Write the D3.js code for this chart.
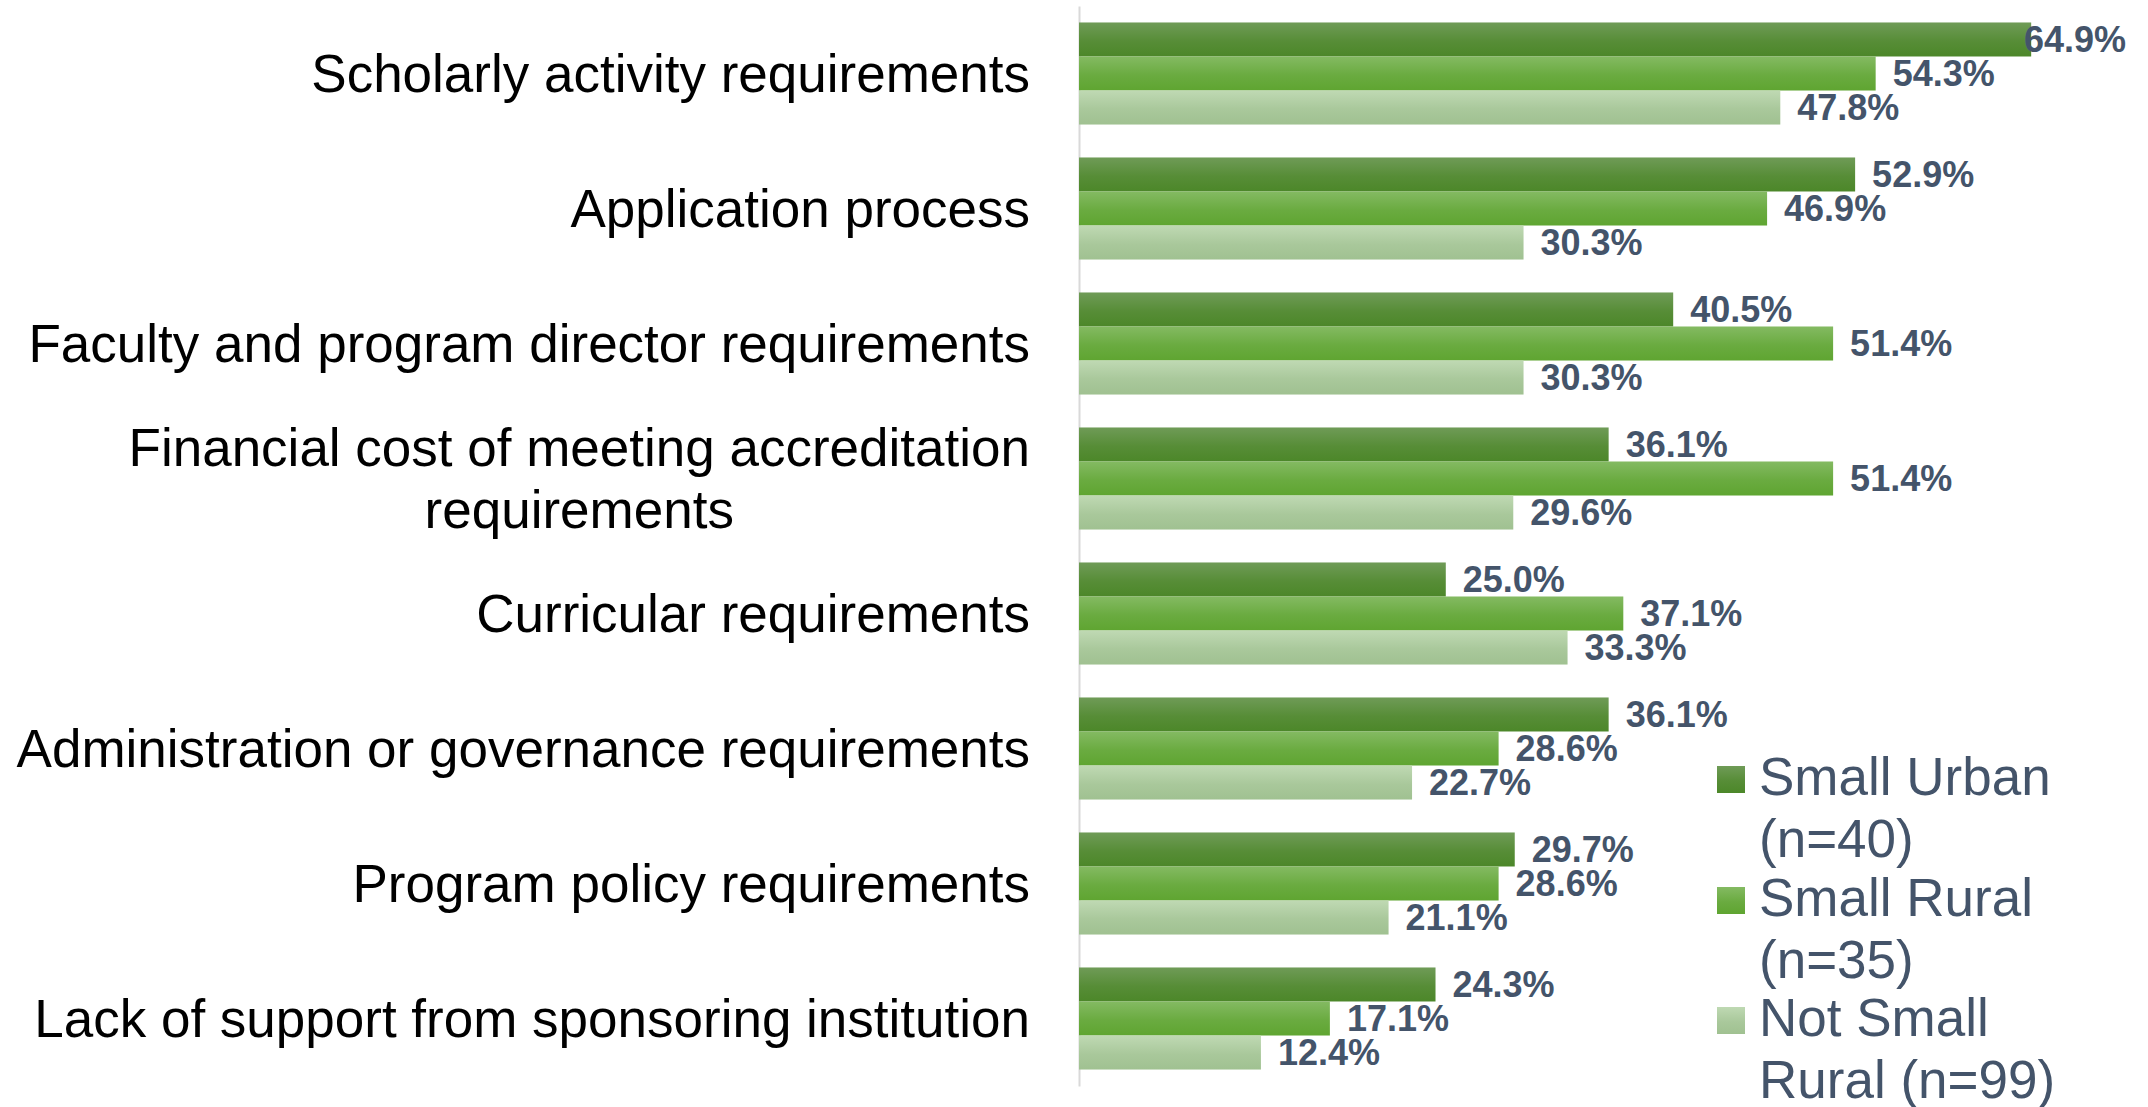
<!DOCTYPE html>
<html>
<head>
<meta charset="utf-8">
<script src="https://cdn.jsdelivr.net/npm/d3@7"></script>
<style>
  body { margin: 0; background: #fff; }
  svg { display: block; font-family: "Liberation Sans", Arial, sans-serif; }
</style>
</head>
<body>
<div id="chart"></div>
<script>
const categories = [
    "Scholarly activity requirements",
    "Application process",
    "Faculty and program director requirements",
    "Financial cost of meeting accreditation requirements",
    "Curricular requirements",
    "Administration or governance requirements",
    "Program policy requirements",
    "Lack of support from sponsoring institution"
]
const seriesNames = ["Small Urban (n=40)", "Small Rural (n=35)", "Not Small Rural (n=99)"]
const smallUrban = [64.9, 52.9, 40.5, 36.1, 25.0, 36.1, 29.7, 24.3]
const smallRural = [54.3, 46.9, 51.4, 51.4, 37.1, 28.6, 28.6, 17.1]
const notSmallRural = [47.8, 30.3, 30.3, 29.6, 33.3, 22.7, 21.1, 12.4]
const xDomainMax = 70

const width = 2148
const height = 1107
const plot = {left: 1079, right: 2106, top: 6, bottom: 1086}
const labelRight = 1030
const textColor = "#44546A"

// gradients: [top, bottom] per series
const gradStops = [
    ["#6f9b57", "#4c8729"],
    ["#84ba62", "#5fa531"],
    ["#bfd9b3", "#a0c191"]
]

const svg = d3.select("#chart")
    .append("svg")
    .attr("width", width)
    .attr("height", height)

const defs = svg.append("defs")
gradStops.forEach((g, i) => {
    const lg = defs.append("linearGradient")
        .attr("id", "grad" + i)
        .attr("x1", 0).attr("y1", 0).attr("x2", 0).attr("y2", 1)
    lg.append("stop").attr("offset", "0%").attr("stop-color", g[0])
    lg.append("stop").attr("offset", "55%").attr("stop-color", d3.interpolateRgb(g[0], g[1])(0.7))
    lg.append("stop").attr("offset", "100%").attr("stop-color", g[1])
})

const seriesValues = [smallUrban, smallRural, notSmallRural]
const rows = categories.map((c, i) => ({
    label: c,
    values: seriesNames.map((s, j) => ({series: s, idx: j, value: seriesValues[j][i]}))
}))

const yScale = d3.scaleBand()
    .domain(categories)
    .range([plot.top, plot.bottom])
    .paddingInner(0.244)
    .paddingOuter(0.122)

const ySub = d3.scaleBand()
    .domain(seriesNames)
    .range([0, yScale.bandwidth()])

const xScale = d3.scaleLinear()
    .domain([0, xDomainMax])
    .range([plot.left, plot.right])

// vertical axis line
const yAxis = d3.axisLeft(yScale).tickSize(0).tickFormat("")
svg.append("g")
    .attr("class", "y-axis")
    .attr("transform", `translate(${plot.left},0)`)
    .call(yAxis)
    .call(g => g.select(".domain").attr("stroke", "#d9d9d9").attr("stroke-width", 2))

const groups = svg.selectAll("g.cat")
    .data(rows)
    .enter()
    .append("g")
    .attr("class", "cat")
    .attr("transform", d => `translate(0,${yScale(d.label)})`)

groups.selectAll("rect")
    .data(d => d.values)
    .enter()
    .append("rect")
    .attr("x", xScale(0))
    .attr("y", d => ySub(d.series))
    .attr("width", d => xScale(d.value) - xScale(0))
    .attr("height", ySub.bandwidth())
    .attr("fill", d => `url(#grad${d.idx})`)

const fmt = d3.format(".1f")
groups.selectAll("text.val")
    .data(d => d.values)
    .enter()
    .append("text")
    .attr("class", "val")
    .attr("y", d => ySub(d.series) + ySub.bandwidth() / 2)
    .attr("dy", "0.36em")
    .attr("font-size", 36)
    .attr("font-weight", "bold")
    .attr("fill", textColor)
    .text(d => fmt(d.value) + "%")
    .attr("x", function(d) {
        const w = this.getComputedTextLength()
        return Math.min(xScale(d.value) + 17, width - 22 - w)
    })

// wrap text into lines by pixel width
function wrapLines(textSel, str, maxW) {
    const words = str.split(" ")
    const lines = []
    let line = []
    words.forEach(w => {
        const test = line.concat([w]).join(" ")
        textSel.text(test)
        if (textSel.node().getComputedTextLength() > maxW && line.length) {
            lines.push(line.join(" "))
            line = [w]
        } else {
            line.push(w)
        }
    })
    lines.push(line.join(" "))
    return lines
}

// category labels (right aligned block, lines centered in block)
const catFont = 53
const lineH = 62
groups.each(function(d) {
    const g = d3.select(this)
    const t = g.append("text")
        .attr("font-size", catFont)
        .attr("fill", "#000")
    const lines = wrapLines(t, d.label, 1030)
    let maxW = 0
    const widths = lines.map(l => { t.text(l); const w = t.node().getComputedTextLength(); maxW = Math.max(maxW, w); return w })
    t.text(null)
    const cx = labelRight - maxW / 2
    const mid = yScale.bandwidth() / 2
    const y0 = mid - (lines.length - 1) * lineH / 2
    lines.forEach((l, i) => {
        t.append("tspan")
            .attr("x", cx)
            .attr("y", y0 + i * lineH)
            .attr("dy", "0.35em")
            .attr("text-anchor", "middle")
            .text(l)
    })
})

// legend
const legend = svg.append("g").attr("class", "legend")
const legX = 1717
const legBase = [795, 916, 1036]
seriesNames.forEach((s, i) => {
    const lg = legend.append("g")
    lg.append("rect")
        .attr("x", legX)
        .attr("y", legBase[i] - 29)
        .attr("width", 28)
        .attr("height", 27)
        .attr("fill", `url(#grad${i})`)
    const t = lg.append("text")
        .attr("font-size", catFont)
        .attr("fill", textColor)
    const lines = wrapLines(t, s, 320)
    t.text(null)
    lines.forEach((l, k) => {
        t.append("tspan")
            .attr("x", legX + 42)
            .attr("y", legBase[i] + k * lineH)
            .text(l)
    })
})
</script>
</body>
</html>
